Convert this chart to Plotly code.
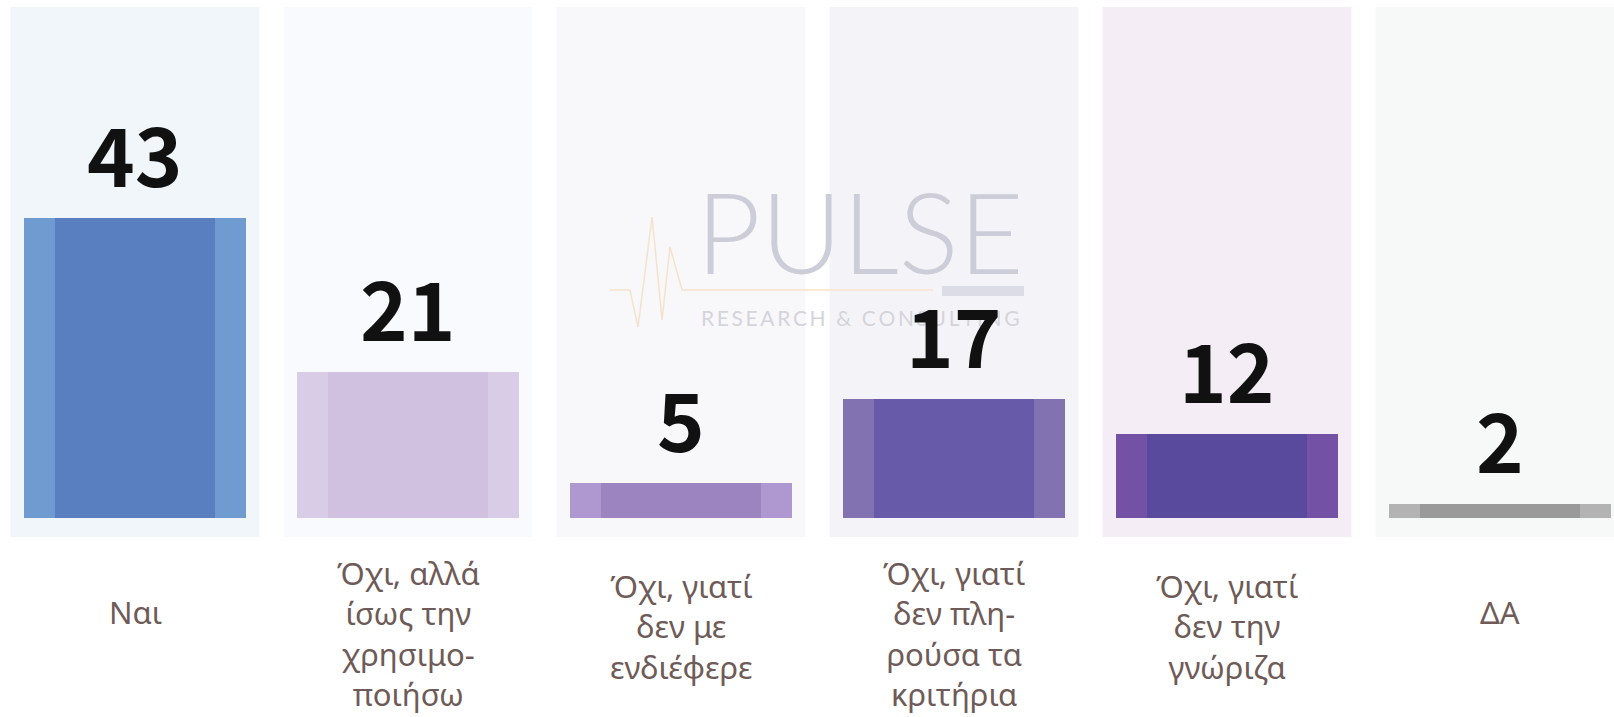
import plotly.graph_objects as go

# ---- data ----
categories = [
    "Ναι",
    "Όχι, αλλά<br>ίσως την<br>χρησιμο-<br>ποιήσω",
    "Όχι, γιατί<br>δεν με<br>ενδιέφερε",
    "Όχι, γιατί<br>δεν πλη-<br>ρούσα τα<br>κριτήρια",
    "Όχι, γιατί<br>δεν την<br>γνώριζα",
    "ΔΑ",
]
values = [43, 21, 5, 17, 12, 2]

# ---- styles ----
main_colors = ["#5a7fc0", "#cfc1df", "#9c84c1", "#675aa8", "#594a9e", "#9a9a9a"]
edge_colors = ["#6f9bd1", "#d9cce6", "#ae98cf", "#8272b2", "#7352a6", "#b3b3b3"]
bg_colors = ["#f1f6fb", "#f9fafd", "#f8f7fa", "#f4f4f8", "#f5edf5", "#f7f8f8"]

NUM_FONT = "Noto Sans CJK JP, Roboto, sans-serif"
LBL_FONT = "Noto Sans, DejaVu Sans, sans-serif"

fig = go.Figure()

# outer (lighter edge) bars
fig.add_trace(go.Bar(
    x=categories, y=values, width=0.813,
    marker=dict(color=edge_colors, line=dict(width=0)),
    hoverinfo="skip", showlegend=False,
))
# inner main bars
fig.add_trace(go.Bar(
    x=categories, y=values, width=0.585,
    marker=dict(color=main_colors, line=dict(width=0)),
    showlegend=False,
))

shapes = []
# background columns
for i, c in enumerate(bg_colors):
    shapes.append(dict(type="rect", xref="x", yref="paper",
                       x0=i - 0.456, x1=i + 0.456, y0=0, y1=1,
                       fillcolor=c, line=dict(width=0), layer="below"))

W, H_TOP, PH = 1614, 7, 530
def px(x):
    return x / W
def py(y):
    return (H_TOP + PH - y) / PH

# watermark pulse line
pts = [(610, 290), (630, 290), (638, 327), (652, 217), (662, 320), (670, 247), (682, 290), (933, 290)]
path = "M " + " L ".join(f"{px(a):.4f},{py(b):.4f}" for a, b in pts)
shapes.append(dict(type="path", xref="paper", yref="paper", path=path,
                   line=dict(color="#f6e2cc", width=1.5), layer="above"))
shapes.append(dict(type="rect", xref="paper", yref="paper",
                   x0=px(942), x1=px(1024), y0=py(296), y1=py(286),
                   fillcolor="#dcdce6", line=dict(width=0), layer="above"))

annotations = []
# watermark text
annotations.append(dict(text="PULSE", xref="paper", yref="paper",
                        x=px(860), y=py(230), xanchor="center", yanchor="middle",
                        showarrow=False,
                        font=dict(family="Lato, Inter, sans-serif", size=112, color="#cdcdd9", weight=300)))
annotations.append(dict(text="\u2009".join("RESEARCH & CONSULTING"), xref="paper", yref="paper",
                        x=px(860), y=py(317), xanchor="center", yanchor="middle",
                        showarrow=False,
                        font=dict(family="Lato, Inter, sans-serif", size=21, color="#d4d4da")))

# value labels
for cat, v in zip(categories, values):
    annotations.append(dict(text=f"<b>{v}</b>", x=cat, y=v, xref="x", yref="y",
                            xanchor="center", yanchor="bottom", yshift=6,
                            showarrow=False,
                            font=dict(family=NUM_FONT, size=81, color="#111111")))

# category labels
for cat in categories:
    n = cat.count("<br>") + 1
    annotations.append(dict(text=cat, x=cat, y=0, xref="x", yref="paper",
                            xanchor="center", yanchor="middle",
                            yshift=-75 - 7 * (n - 1),
                            showarrow=False,
                            font=dict(family=LBL_FONT, size=31, color="#6e5b58")))

fig.update_layout(
    width=1614, height=717,
    margin=dict(l=0, r=0, t=H_TOP, b=717 - H_TOP - PH, pad=0),
    paper_bgcolor="white", plot_bgcolor="white",
    barmode="overlay", bargap=0,
    xaxis=dict(range=[-0.4945, 5.4176], showticklabels=False, showgrid=False,
               zeroline=False, showline=False, fixedrange=True),
    yaxis=dict(range=[-2.73, 73.3], showticklabels=False, showgrid=False,
               zeroline=False, showline=False, fixedrange=True),
    shapes=shapes, annotations=annotations,
    showlegend=False,
)

fig.write_html("out.html", config={"displayModeBar": False},
               post_script="document.body.style.margin='0';")
